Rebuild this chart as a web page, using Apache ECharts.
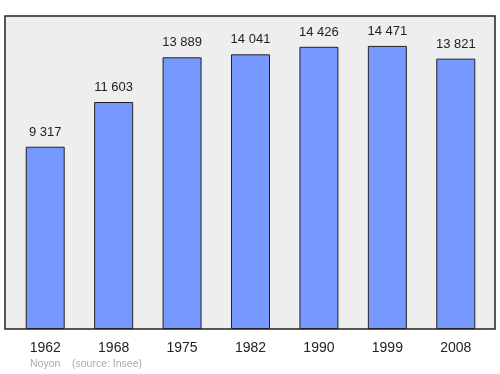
<!DOCTYPE html>
<html><head><meta charset="utf-8">
<script src="https://cdn.jsdelivr.net/npm/echarts@6/dist/echarts.min.js"></script>
<style>html,body{margin:0;padding:0;background:#fff}#c{width:500px;height:374px}</style>
</head><body><div id="c"></div>
<script>
const years = ['1962','1968','1975','1982','1990','1999','2008'];
const population = [9317, 11603, 13889, 14041, 14426, 14471, 13821];
const yMax = 16000;
const footer = 'Noyon    (source: Insee)';

const fmt = v => String(v).replace(/\B(?=(\d{3})+(?!\d))/g, ' ');
const chart = echarts.init(document.getElementById('c'), null, {renderer:'canvas'});
chart.setOption({
  animation:false,
  textStyle:{fontFamily:'Liberation Sans, Arial, sans-serif'},
  grid:[
    {left:5, right:5, top:16, bottom:45, show:true, backgroundColor:'#eeeeee', borderColor:'#222', borderWidth:1.5, containLabel:false},
    {left:11, right:10, top:16, bottom:45, containLabel:false}
  ],
  xAxis:[
    {gridIndex:0, type:'value', min:0, max:1, show:false},
    {gridIndex:1, type:'category', data:years, axisLine:{show:false}, axisTick:{show:false},
     axisLabel:{color:'#222', fontSize:14, margin:12, fontFamily:'Liberation Sans, Arial, sans-serif'}}
  ],
  yAxis:[
    {gridIndex:0, type:'value', min:0, max:1, show:false},
    {gridIndex:1, type:'value', min:0, max:yMax, show:false}
  ],
  series:[{
    type:'bar', xAxisIndex:1, yAxisIndex:1, data:population, barWidth:39,
    itemStyle:{color:'#7799ff', borderColor:'#222', borderWidth:1},
    label:{show:true, position:'top', distance:8, color:'#222', fontSize:13,
      fontFamily:'Liberation Sans, Arial, sans-serif', formatter:p=>fmt(p.value)}
  }],
  graphic:[{type:'text', left:30, top:359, style:{text:footer, fill:'#aaaaaa', fontSize:10.5, fontFamily:'Liberation Sans, Arial, sans-serif'}}]
});
</script></body></html>
